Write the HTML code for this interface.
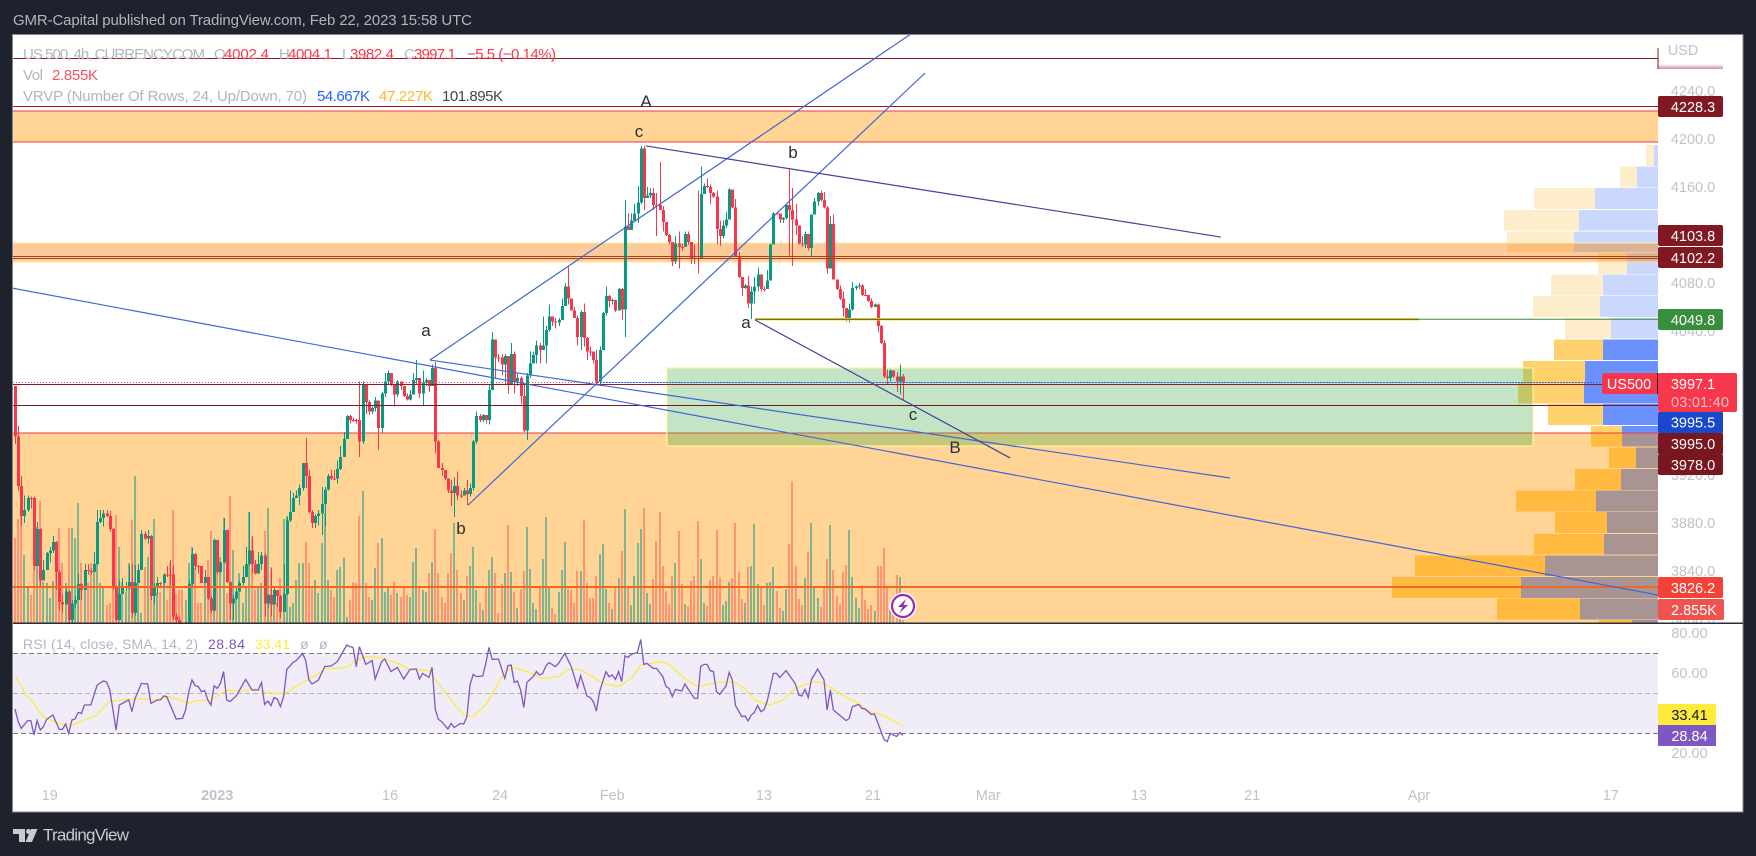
<!DOCTYPE html>
<html lang="en">
<head>
<meta charset="utf-8">
<title>US 500 chart - TradingView</title>
<style>
html,body{margin:0;padding:0;background:#1e222d;width:1756px;height:856px;overflow:hidden}
svg{display:block}
text{font-family:"Liberation Sans",sans-serif}
</style>
</head>
<body>
<svg id="chart" xmlns="http://www.w3.org/2000/svg" width="1756" height="856" viewBox="0 0 1756 856">
  <defs>
    <clipPath id="clip-main"><rect x="13" y="35" width="1645" height="588"/></clipPath>
    <clipPath id="clip-rsi"><rect x="13" y="624" width="1645" height="160"/></clipPath>
    <clipPath id="clip-axis"><rect x="1659" y="35" width="84" height="588"/></clipPath>
    <linearGradient id="usd-fade" x1="0" y1="0" x2="0" y2="1"><stop offset="0" stop-color="#ffffff"/><stop offset="1" stop-color="#cf9298"/></linearGradient>
  </defs>
  <rect x="0" y="0" width="1756" height="856" fill="#1e222d"/>
  <text x="13" y="25" font-size="15" fill="#b2b5be" textLength="459">GMR-Capital published on TradingView.com, Feb 22, 2023 15:58 UTC</text>
  <rect x="12.5" y="34.5" width="1730.5" height="777.5" fill="#ffffff" stroke="#858890" stroke-width="1"/>

  <g clip-path="url(#clip-main)">
    <g id="vp-layer"></g>
    <g id="band-layer"></g>
    <g id="zone-layer"></g>
    <g id="volume-layer"></g>
    <g id="candle-layer"></g>
    <g id="hline-layer"></g>
    <g id="trend-layer"></g>
    <g font-size="17" fill="#2a2e39" text-anchor="middle">
      <text x="646" y="107">A</text>
      <text x="639" y="137">c</text>
      <text x="793" y="158">b</text>
      <text x="426" y="336">a</text>
      <text x="461" y="534">b</text>
      <text x="746" y="328">a</text>
      <text x="913" y="420">c</text>
      <text x="955" y="453">B</text>
    </g>
    <g>
      <circle cx="903" cy="606" r="13.5" fill="#ffffff"/>
      <circle cx="903" cy="606" r="11" fill="#ffffff" stroke="#9c27b0" stroke-width="2.2"/>
      <polygon points="906,599 898,607 902.5,607 899.5,613 908,605 903.5,605" fill="#9c27b0"/>
    </g>
  </g>

  <g font-size="15">
    <text x="23" y="59" fill="#b2b5be" textLength="182">US 500, 4h, CURRENCYCOM</text>
    <text x="214" y="59" fill="#b2b5be">O</text>
    <text x="224" y="59" fill="#f7374b" textLength="45">4002.4</text>
    <text x="279" y="59" fill="#b2b5be">H</text>
    <text x="288" y="59" fill="#f7374b" textLength="44">4004.1</text>
    <text x="342" y="59" fill="#b2b5be">L</text>
    <text x="350" y="59" fill="#f7374b" textLength="44">3982.4</text>
    <text x="404" y="59" fill="#b2b5be">C</text>
    <text x="414" y="59" fill="#f7374b" textLength="42">3997.1</text>
    <text x="467" y="59" fill="#f7374b" textLength="89">−5.5 (−0.14%)</text>
    <text x="23" y="80" fill="#b2b5be" textLength="20">Vol</text>
    <text x="52" y="80" fill="#f7525f" textLength="46">2.855K</text>
    <text x="23" y="101" fill="#b2b5be" textLength="284">VRVP (Number Of Rows, 24, Up/Down, 70)</text>
    <text x="317" y="101" fill="#2962ff" textLength="53">54.667K</text>
    <text x="379" y="101" fill="#ffb52e" textLength="54">47.227K</text>
    <text x="442" y="101" fill="#444444" textLength="61">101.895K</text>
  </g>

  <g>
    <text x="1683" y="55" font-size="14.5" fill="#c0c2ca" text-anchor="middle">USD</text>
    <rect x="1658" y="64" width="65" height="5" fill="url(#usd-fade)"/>
    <rect x="1657.5" y="48" width="1" height="21" fill="#801922"/>
  </g>
  <g id="price-axis" clip-path="url(#clip-axis)" font-size="14.5" fill="#c0c2ca" text-anchor="middle"></g>

  <g font-size="14.5" text-anchor="middle">
    <g><rect x="1658" y="96" width="65" height="21" rx="2" fill="#801922"/><text x="1693" y="112" fill="#fff">4228.3</text></g>
    <g><rect x="1658" y="225" width="65" height="21" rx="2" fill="#801922"/><text x="1693" y="241" fill="#fff">4103.8</text></g>
    <g><rect x="1658" y="247" width="65" height="21" rx="2" fill="#801922"/><text x="1693" y="263" fill="#fff">4102.2</text></g>
    <g><rect x="1658" y="309" width="65" height="21" rx="2" fill="#388e3c"/><text x="1693" y="325" fill="#fff">4049.8</text></g>
    <g>
      <rect x="1602" y="373" width="57" height="21" rx="2" fill="#f7374b"/>
      <text x="1629" y="389" fill="#fff">US500</text>
      <rect x="1658" y="373" width="79" height="39" rx="2" fill="#f7374b"/>
      <rect x="1657" y="373" width="1" height="21" fill="#1e222d"/>
      <text x="1693" y="389" fill="#fff">3997.1</text>
      <text x="1700" y="407" fill="#fbc0c6" textLength="58">03:01:40</text>
    </g>
    <g><rect x="1658" y="412" width="65" height="21" rx="1" fill="#1848cc"/><text x="1693" y="427.5" fill="#fff">3995.5</text></g>
    <g><rect x="1658" y="433" width="65" height="21" rx="1" fill="#7a1620"/><text x="1693" y="449" fill="#fff">3995.0</text></g>
    <g><rect x="1658" y="454" width="65" height="21" rx="2" fill="#7a1620"/><text x="1693" y="470" fill="#fff">3978.0</text></g>
    <g><rect x="1658" y="577" width="65" height="21" rx="2" fill="#f44336"/><text x="1693" y="593" fill="#fff">3826.2</text></g>
    <g><rect x="1658" y="599" width="66" height="21" rx="2" fill="#ef5350"/><text x="1694" y="615" fill="#fff">2.855K</text></g>
  </g>

  <rect x="13" y="622.5" width="1730" height="1.5" fill="#2a2e39"/>

  <g clip-path="url(#clip-rsi)">
    <g id="rsi-layer"></g>
  </g>
  <g font-size="14">
    <text x="23" y="649" fill="#b2b5be" textLength="175">RSI (14, close, SMA, 14, 2)</text>
    <text x="208" y="649" fill="#7e57c2" textLength="37">28.84</text>
    <text x="255" y="649" fill="#ffeb3b" textLength="35">33.41</text>
    <text x="300" y="649" fill="#b2b5be">ø</text>
    <text x="319" y="649" fill="#b2b5be">ø</text>
  </g>
  <g id="rsi-axis" font-size="14.5" fill="#c0c2ca" text-anchor="middle"></g>
  <g font-size="14.5" text-anchor="middle">
    <rect x="1658" y="704" width="58" height="21" fill="#ffeb3b"/>
    <text x="1689.5" y="720" fill="#131722">33.41</text>
    <rect x="1658" y="725" width="58" height="21" fill="#7e57c2"/>
    <text x="1689.5" y="741" fill="#ffffff">28.84</text>
  </g>
  <g id="time-axis" font-size="14.5" fill="#c0c2ca" text-anchor="middle"></g>

  <g>
    <path d="M13 829h12v13h-6v-8h-6z" fill="#c8cad1"/>
    <circle cx="28.5" cy="831.5" r="2.5" fill="#c8cad1"/>
    <path d="M31 829h6.500l-5.500 13h-6.500z" fill="#c8cad1"/>
    <text x="43" y="840.500" font-size="17" fill="#c8cad1" textLength="86">TradingView</text>
  </g>
</svg>

<script>
// ---- price series (4h bars) ----
const firstOpen = 3994;
const closes = [
3952,3911,3886,3891,3901,3901,3844,3875,3832,3841,
3855,3857,3864,3839,3814,3812,3823,3799,3813,3816,
3829,3824,3841,3840,3839,3846,3881,3884,3888,3886,
3875,3827,3799,3821,3826,3827,3831,3805,3830,3841,
3871,3867,3869,3819,3827,3830,3830,3837,3837,3837,
3802,3799,3794,3792,3796,3829,3854,3844,3844,3830,
3835,3817,3807,3866,3839,3847,3874,3831,3813,3817,
3823,3830,3835,3846,3857,3846,3838,3846,3853,3813,
3820,3812,3824,3819,3806,3821,3882,3889,3901,3903,
3909,3930,3919,3889,3880,3886,3888,3896,3908,3919,
3917,3917,3925,3935,3950,3969,3966,3966,3966,3948,
3996,3981,3973,3976,3982,3959,3988,3998,4005,3996,
3987,3998,3994,3986,3983,3987,3999,4001,3988,3997,
3999,3994,4009,3948,3926,3924,3917,3907,3905,3911,
3903,3903,3907,3904,3909,3948,3969,3966,3970,3966,
3991,4033,4018,4018,4012,4019,3996,4021,3998,4001,
3986,3957,4003,4013,4020,4028,4024,4028,4041,4052,
4048,4047,4049,4061,4077,4067,4057,4051,4035,4056,
4034,4023,4023,4016,3998,4024,4055,4069,4065,4066,
4057,4075,4058,4127,4124,4132,4138,4147,4192,4151,
4153,4155,4145,4145,4141,4131,4120,4114,4098,4113,
4110,4110,4121,4114,4101,4101,4101,4154,4161,4160,
4155,4152,4125,4119,4128,4133,4158,4143,4102,4085,
4076,4078,4063,4073,4077,4087,4075,4075,4082,4112,
4138,4138,4133,4134,4145,4141,4133,4128,4113,4112,
4121,4109,4137,4148,4155,4149,4143,4092,4129,4083,
4075,4067,4059,4051,4058,4076,4077,4078,4070,4070,
4065,4060,4062,4044,4030,4002,4001,4007,4002,3998,
4002,3997];
const highs = [
3994,3961,3919,3903,3903,3902,3902,3881,3876,3849,
3856,3860,3869,3865,3841,3821,3826,3824,3816,3819,
3838,3830,3846,3846,3842,3856,3891,3891,3891,3891,
3890,3876,3828,3832,3834,3831,3845,3846,3845,3846,
3874,3873,3874,3870,3830,3835,3831,3838,3844,3849,
3845,3805,3802,3795,3798,3832,3859,3855,3845,3842,
3841,3835,3819,3867,3866,3848,3884,3874,3831,3820,
3826,3832,3844,3860,3889,3869,3849,3856,3856,3855,
3821,3842,3826,3824,3820,3846,3885,3907,3905,3907,
3912,3930,3951,3924,3891,3887,3891,3910,3910,3921,
3924,3924,3932,3944,3956,3970,3970,3968,3967,3998,
3998,3996,3982,3977,3985,3982,3989,4005,4007,4005,
3996,3999,3998,3994,3988,3991,4005,4016,4001,4007,
4001,3999,4012,4014,3949,3930,3924,3917,3916,3918,
3923,3907,3909,3916,3913,3949,3973,3971,3971,3970,
3995,4039,4033,4021,4021,4021,4019,4030,4023,4005,
4002,3996,4005,4023,4023,4032,4030,4052,4044,4062,
4052,4051,4051,4067,4080,4094,4067,4060,4053,4057,
4063,4035,4027,4023,4024,4027,4056,4077,4070,4067,
4066,4076,4076,4149,4138,4138,4146,4161,4194,4194,
4160,4159,4159,4155,4181,4144,4124,4121,4114,4119,
4123,4113,4123,4123,4114,4112,4157,4177,4163,4167,
4162,4156,4157,4132,4132,4139,4159,4158,4150,4106,
4085,4079,4086,4077,4085,4093,4087,4077,4091,4113,
4139,4139,4137,4135,4146,4175,4159,4146,4128,4119,
4123,4121,4137,4151,4156,4157,4156,4144,4136,4137,
4083,4078,4073,4058,4063,4081,4078,4080,4079,4075,
4070,4067,4063,4063,4045,4032,4008,4008,4007,4006,
4012,4004];
const lows = [
3946,3907,3878,3880,3889,3892,3841,3844,3827,3832,
3841,3847,3855,3824,3807,3805,3814,3794,3794,3809,
3816,3816,3827,3837,3837,3839,3845,3880,3877,3885,
3873,3824,3798,3799,3821,3823,3824,3801,3803,3830,
3856,3866,3863,3816,3812,3820,3826,3828,3835,3828,
3799,3795,3792,3791,3791,3795,3827,3841,3838,3830,
3830,3816,3805,3806,3837,3838,3846,3830,3799,3799,
3816,3823,3828,3835,3844,3838,3837,3839,3841,3802,
3809,3802,3812,3810,3801,3806,3820,3881,3898,3901,
3895,3907,3909,3888,3876,3876,3878,3870,3877,3907,
3916,3916,3913,3924,3935,3950,3963,3964,3963,3935,
3946,3971,3970,3971,3973,3941,3955,3985,3996,3994,
3977,3985,3991,3985,3982,3982,3988,3996,3984,3978,
3994,3989,3994,3938,3926,3919,3916,3905,3894,3885,
3899,3901,3903,3895,3902,3907,3946,3964,3964,3963,
3962,3991,4000,4014,4003,3995,3988,3995,3988,3994,
3979,3956,3949,4001,4013,4013,4013,4024,4013,4039,
4044,4042,4044,4049,4061,4062,4057,4051,4028,4024,
4027,4016,4019,4013,3994,3994,4024,4053,4060,4062,
4056,4057,4049,4035,4124,4124,4131,4130,4146,4141,
4151,4151,4141,4119,4141,4123,4119,4112,4094,4096,
4092,4107,4110,4112,4096,4096,4088,4101,4155,4159,
4146,4151,4112,4111,4117,4126,4133,4142,4102,4084,
4069,4075,4059,4050,4063,4073,4073,4073,4075,4090,
4112,4137,4130,4130,4133,4103,4094,4120,4112,4110,
4109,4107,4102,4137,4144,4148,4142,4088,4092,4083,
4074,4066,4052,4048,4047,4057,4074,4075,4069,4069,
4064,4059,4060,4039,4029,4001,3995,3998,4001,3989,
3987,3982];
// volume per bar, in thousands
const volumes = [
85,104,113,68,35,28,85,96,122,41,
40,25,42,70,95,60,40,95,95,85,
120,60,50,40,60,55,70,40,35,18,
20,50,108,76,41,31,60,103,147,43,
10,56,66,50,104,30,31,45,23,60,
113,30,33,33,23,60,76,55,20,20,
40,63,92,58,83,66,105,30,127,73,
25,50,20,35,111,86,33,36,40,92,
115,56,33,20,45,104,107,16,20,43,
60,60,81,60,35,43,30,80,110,43,
33,26,53,56,65,6,23,41,40,107,
132,40,26,23,55,80,85,31,35,28,
41,30,26,35,28,26,61,75,35,33,
31,50,61,94,50,26,20,50,70,100,
53,30,23,47,57,76,33,20,13,36,
53,66,50,
10,39,50,98,51,31,15,34,52,96,
54,20,14,36,64,106,35,15,9,31,
53,81,34,33,20,52,52,103,40,25,
25,47,69,79,34,20,14,35,45,72,
114,35,18,47,80,94,115,30,19,44,
82,111,57,32,19,47,60,92,39,19,
17,42,47,102,64,20,17,43,47,93,
46,18,22,41,45,100,51,24,20,56,
57,99,39,36,18,40,41,56,32,15,
12,34,79,142,57,24,18,45,71,100,
35,25,16,36,64,98,53,27,19,51,
58,93,46,25,15,38,23,14,18,12,
57,57,75,35,13,10,48,46,2.855];

// ---- RSI, read at its turning points ----
const rsiBars = [0,1,2,4,5,6,7,8,9,10,12,14,15,16,17,18,19,20,21,22,24,26,28,29,30,32,33,35,36,37,38,40,42,43,45,46,47,48,51,53,54,55,56,57,58,59,60,61,62,63,64,65,66,67,68,70,73,75,77,78,79,80,81,82,83,84,85,86,88,89,91,92,93,94,96,98,100,102,105,106,107,108,109,111,113,114,116,117,119,121,123,125,127,128,129,131,132,133,134,135,137,138,139,141,142,143,144,145,146,148,149,150,151,153,155,156,157,158,159,160,161,162,164,165,166,167,168,169,171,172,174,176,177,178,179,181,182,183,184,185,187,188,189,190,191,192,193,194,195,197,198,199,200,202,203,205,206,207,208,209,211,212,213,215,216,217,218,219,220,221,222,223,225,226,227,228,230,231,232,233,234,235,236,237,238,240,241,242,244,245,247,248,249,250,251,252,254,256,257,258,259,263,264,265,267,268,269,271,272,275,276,277,279,280,281];
const rsiValues = [42,35.7,32.3,36.2,36.2,29,36.2,31.5,33.2,36.8,39,31.8,31.8,34.5,29.8,36.5,37,40.3,39.8,44,44,54,56,55.5,51.5,31.5,44,45.7,46.5,40.7,47.3,54.8,54.5,44.8,46.5,46.5,48.5,48.2,37,37.3,41.5,50.7,56.5,53.7,53.2,50.7,51.2,46.5,44,53.7,52.3,54.8,60.7,46.5,45.7,48.5,56.8,51.5,51.5,55.2,44.3,46,43.7,47.7,47,43.2,48.2,61.8,65.3,66.2,69.8,66.2,56.5,54.5,56.5,63.2,63.5,65.7,74,73.2,72.8,63.2,73.2,64.3,66.2,57,65.7,67,60.7,62.8,57,61.8,62,57,59.8,57.8,62.8,41.8,36.8,35.7,32,34.8,32.8,34.8,34.5,38.2,54,59.3,58.2,58.5,64.8,72.8,66.8,67,57.3,63.7,64,55.3,56,51.5,42.8,55.3,58.2,60.7,59,59.8,63.5,65.2,63.2,64.8,69.8,63.2,58.2,52.7,58.7,48.5,47.8,45.7,41,50.7,60.7,58.2,59,56.8,60.7,55.7,68.5,67.8,69.3,70.3,76.8,64.3,64.8,62.3,62.3,58.2,53.2,52.3,48.2,51.8,51,54.5,52,47.3,47.3,63.2,64.3,64.3,61.2,60.7,50.7,49.3,53.5,60.3,56.5,43.7,38.2,38.5,36,39,40.3,43.8,40.7,41.5,45.7,59.8,59.8,57.7,61.2,59,54.5,49,48.5,51.8,47.7,56.5,62,56.5,41.5,51.5,41.5,36.2,37.3,43.2,44.3,42.3,42,39.3,39.5,26.8,25.7,29.8,28.2,30.2,28.84];
const smaBars = [0,2,3,6,8,10,13,15,18,22,26,28,30,32,35,42,44,49,52,55,57,62,65,67,71,76,80,85,88,91,95,98,105,108,111,116,121,125,131,133,137,142,145,149,153,155,158,162,167,172,175,179,186,191,195,198,205,208,212,216,222,227,231,234,239,243,247,253,256,263,266,270,276,281];
const smaValues = [58.2,54,49.8,44.8,39.8,37,35.7,34.3,34,36.5,39,42.8,46,46,46.8,47.2,46.2,48.2,46.5,44.8,46.2,46.5,49.5,51.5,50.7,52,50.2,49.5,52.3,55.3,58.5,62,62.8,66.5,68.2,67.7,64.8,61.8,61.2,56.5,48.5,39,38.2,44,54.8,60.7,62.7,60.7,57.3,58.2,61.8,61.8,54.8,53.2,57.3,64,65.7,63.2,57,53.2,55.2,55.7,52.3,46.5,44,46.5,52.3,55.8,54.8,47.8,45.7,41.2,37.8,33.41];

// ---- volume profile rows, top to bottom, in thousands ----
const vpUp = [.16,.84,2.52,3.16,3.36,1.24,2.2,2.32,1.88,2.2,2.92,2.96,2.2,1.44,.88,1.48,2.48,2.04,2.16,4.52,5.48,3.12,1.04];
const vpDown = [.32,.68,2.44,3,2.68,1.16,2.08,2.68,1.84,1.96,2.48,2.64,2.2,1.24,1.08,1.84,3.2,2.08,2.8,5.2,5.16,3.32,1.32];
const vpTopPrice = 4195;
const vpRowPrice = 18;
const vpValueAreaFirstRow = 9;

// ---- axis ticks ----
const priceTicks = [4240,4200,4160,4120,4080,4040,4000,3960,3920,3880,3840,3800];
const rsiTicks = [80,60,40,20];
const timeTickBars = [11,64,118.7,153.5,189,237,271.5,308,355.7,391.5,444.3,505];
const timeTickLabels = ['19','2023','16','24','Feb','13','21','Mar','13','21','Apr','17'];

// ---- drawings: bar index / price anchors ----
const bandLow = [4197.5,4097.5,3600];
const bandHigh = [4223.3,4113.3,3955];
const levelPrices = [4267.5,4227.6,3995.8,3978.3];
const resistancePrices = [4102.5,4100.8];
const trendBlueFrom = [[-1,4075.8],[131.3,4015.8],[131.3,4015.8],[143.4,3895]];
const trendBlueTo = [[519.9,3820],[384.5,3917.5],[283.5,4287.5],[288,4255]];
const trendPurpleFrom = [[199.7,4194.2],[234.2,4049.2]];
const trendPurpleTo = [[381.6,4118.3],[314.9,3934.2]];

// ---- axis functions ----
const xOf = b => 15 + 3.16 * b;
const yOf = p => 379 + (4000 - p) * 1.2;
const rsiY = v => 653 + (70 - v) * 2;
const volH = v => v * 1;
const vpW = v => v * 25;
const PANE_L = 13, PANE_R = 1658, PANE_B = 623;

const NS = 'http://www.w3.org/2000/svg';
function mk(parent, tag, geom) {
  const el = document.createElementNS(NS, tag);
  for (const k in geom) el.setAttribute(k, geom[k]);
  parent.appendChild(el);
  return el;
}
const $ = id => document.getElementById(id);

// volume profile
vpUp.forEach((u, i) => {
  const top = yOf(vpTopPrice - vpRowPrice * i);
  const h = vpRowPrice * 1.2 - 0.8;
  const inVA = i >= vpValueAreaFirstRow;
  const wu = vpW(u), wd = vpW(vpDown[i]);
  const up = mk($('vp-layer'), 'rect', {x: PANE_R - wu, y: top, width: wu, height: h, fill: inVA ? '#6b91ff' : '#c9d8fc', 'shape-rendering': 'crispEdges'});
  
  
  const dn = mk($('vp-layer'), 'rect', {x: PANE_R - wu - wd, y: top, width: wd, height: h, fill: inVA ? '#ffd26d' : '#fdedcb', 'shape-rendering': 'crispEdges'});
  
  
});

// orange bands
bandLow.forEach((lo, i) => {
  const t = yOf(bandHigh[i]), b = yOf(lo);
  const band = mk($('band-layer'), 'rect', {x: PANE_L, y: t, width: PANE_R - PANE_L, height: b - t, fill: i === 1 ? 'rgba(245,124,0,0.4)' : 'rgba(255,152,0,0.42)', 'shape-rendering': 'crispEdges'});
  
  
  const borderColor = i === 1 ? '#ffe89a' : '#f23645';
  const tl = mk($('band-layer'), 'rect', {x: PANE_L, y: t - 0.5, width: PANE_R - PANE_L, height: 1, fill: borderColor, 'shape-rendering': 'crispEdges'});
  
  
  if (i < 2) {
    const bl = mk($('band-layer'), 'rect', {x: PANE_L, y: b - 0.5, width: PANE_R - PANE_L, height: 1, fill: borderColor, 'shape-rendering': 'crispEdges'});
    
    
  }
});

// green zone
const zone = mk($('zone-layer'), 'rect', {x: xOf(206.3), y: yOf(4009.2), width: xOf(480.4) - xOf(206.3), height: yOf(3944.2) - yOf(4009.2), fill: 'rgba(76,175,80,0.33)', stroke: '#fff59d', 'stroke-width': 1.2});



// candles and volume
closes.forEach((c, i) => {
  const o = i === 0 ? firstOpen : closes[i - 1];
  const up = c > o;
  const x = xOf(i);
  const vh = volH(volumes[i]);
  const vb = mk($('volume-layer'), 'rect', {x: Math.round(x) - 1, y: PANE_B - vh, width: 2, height: vh, fill: up ? 'rgba(0,150,136,0.5)' : 'rgba(255,82,82,0.5)', 'shape-rendering': 'crispEdges'});
  
  
  const color = up ? '#089981' : '#f7374b';
  const g = mk($('candle-layer'), 'g', {'shape-rendering': 'crispEdges', fill: color});
  
  
  const wick = mk(g, 'rect', {x: Math.round(x), y: yOf(highs[i]), width: 1, height: Math.max(1, yOf(lows[i]) - yOf(highs[i]))});
  
  
  const top = yOf(Math.max(o, c)), bot = yOf(Math.min(o, c));
  const body = mk(g, 'rect', {x: Math.round(x) - 1, y: top, width: 3, height: Math.max(1, bot - top)});
  
  
});

// horizontal levels
levelPrices.forEach((p, i) => {
  const y = Math.round(yOf(p)) + 0.5;
  const l = mk($('hline-layer'), 'line', {x1: PANE_L, x2: PANE_R, y1: y, y2: y, stroke: i === 3 ? '#6d1a20' : '#8f1d26', 'stroke-width': 1});
  
  
});
resistancePrices.forEach(p => {
  const y = Math.round(yOf(p)) + 0.5;
  const l = mk($('hline-layer'), 'line', {x1: PANE_L, x2: PANE_R, y1: y, y2: y, stroke: '#a5421c', 'stroke-width': 1});
  
  
});
const orangeLine = mk($('hline-layer'), 'line', {x1: PANE_L, x2: PANE_R, y1: yOf(3826.7), y2: yOf(3826.7), stroke: '#f26522', 'stroke-width': 2});


const lastLine = mk($('hline-layer'), 'line', {x1: PANE_L, x2: PANE_R, y1: yOf(3997.1), y2: yOf(3997.1), stroke: '#f7374b', 'stroke-width': 1, 'stroke-dasharray': '1 2'});


const blueLevel = mk($('hline-layer'), 'line', {x1: xOf(186), x2: PANE_R, y1: yOf(3997.1), y2: yOf(3997.1), stroke: '#2962ff', 'stroke-width': 1, 'stroke-dasharray': '2 1'});


const yellowA = mk($('hline-layer'), 'line', {x1: xOf(234.2), x2: xOf(444.3), y1: yOf(4049.8), y2: yOf(4049.8), stroke: '#f5e642', 'stroke-width': 2.6});


const yellowB = mk($('hline-layer'), 'line', {x1: xOf(234.2), x2: xOf(444.3), y1: yOf(4049.8), y2: yOf(4049.8), stroke: '#4d4d14', 'stroke-width': 1});


const greenLevel = mk($('hline-layer'), 'line', {x1: xOf(444.3), x2: PANE_R, y1: yOf(4049.8), y2: yOf(4049.8), stroke: '#388e3c', 'stroke-width': 1});



// trend lines
trendBlueFrom.forEach((a, i) => {
  const b = trendBlueTo[i];
  const l = mk($('trend-layer'), 'line', {x1: xOf(a[0]), y1: yOf(a[1]), x2: xOf(b[0]), y2: yOf(b[1]), stroke: '#3f66d8', 'stroke-width': 1.2});
  
  
});
trendPurpleFrom.forEach((a, i) => {
  const b = trendPurpleTo[i];
  const l = mk($('trend-layer'), 'line', {x1: xOf(a[0]), y1: yOf(a[1]), x2: xOf(b[0]), y2: yOf(b[1]), stroke: '#4a3f9e', 'stroke-width': 1.2});
  
  
});

// RSI pane
const rsiLayer = $('rsi-layer');
const rsiBand = mk(rsiLayer, 'rect', {x: PANE_L, y: rsiY(70), width: PANE_R - PANE_L, height: rsiY(30) - rsiY(70), fill: '#f0ecf8'});


[70, 50, 30].forEach(v => {
  const l = mk(rsiLayer, 'line', {x1: PANE_L, x2: PANE_R, y1: rsiY(v) + 0.5, y2: rsiY(v) + 0.5, stroke: v === 50 ? '#b2b5be' : '#787b86', 'stroke-width': 1, 'stroke-dasharray': '5 3'});
  
  
});
const smaPath = mk(rsiLayer, 'polyline', {points: smaBars.map((b, i) => xOf(b).toFixed(1) + ',' + rsiY(smaValues[i]).toFixed(1)).join(' '), fill: 'none', stroke: '#ffeb3b', 'stroke-width': 1.3});


const rsiPath = mk(rsiLayer, 'polyline', {points: rsiBars.map((b, i) => xOf(b).toFixed(1) + ',' + rsiY(rsiValues[i]).toFixed(1)).join(' '), fill: 'none', stroke: '#7e57c2', 'stroke-width': 1.3});



// axes
priceTicks.forEach(p => {
  const t = mk($('price-axis'), 'text', {x: 1693, y: yOf(p) + 5});
  t.textContent = p.toFixed(1);
  
  
});
rsiTicks.forEach(v => {
  const t = mk($('rsi-axis'), 'text', {x: 1689.5, y: rsiY(v) + 5});
  t.textContent = v.toFixed(2);
  
  
});
timeTickBars.forEach((b, i) => {
  const t = mk($('time-axis'), 'text', {x: xOf(b), y: 800});
  t.textContent = timeTickLabels[i];
  if (timeTickLabels[i] === '2023') t.setAttribute('font-weight', 'bold');
  
  
});
</script>
</body>
</html>
